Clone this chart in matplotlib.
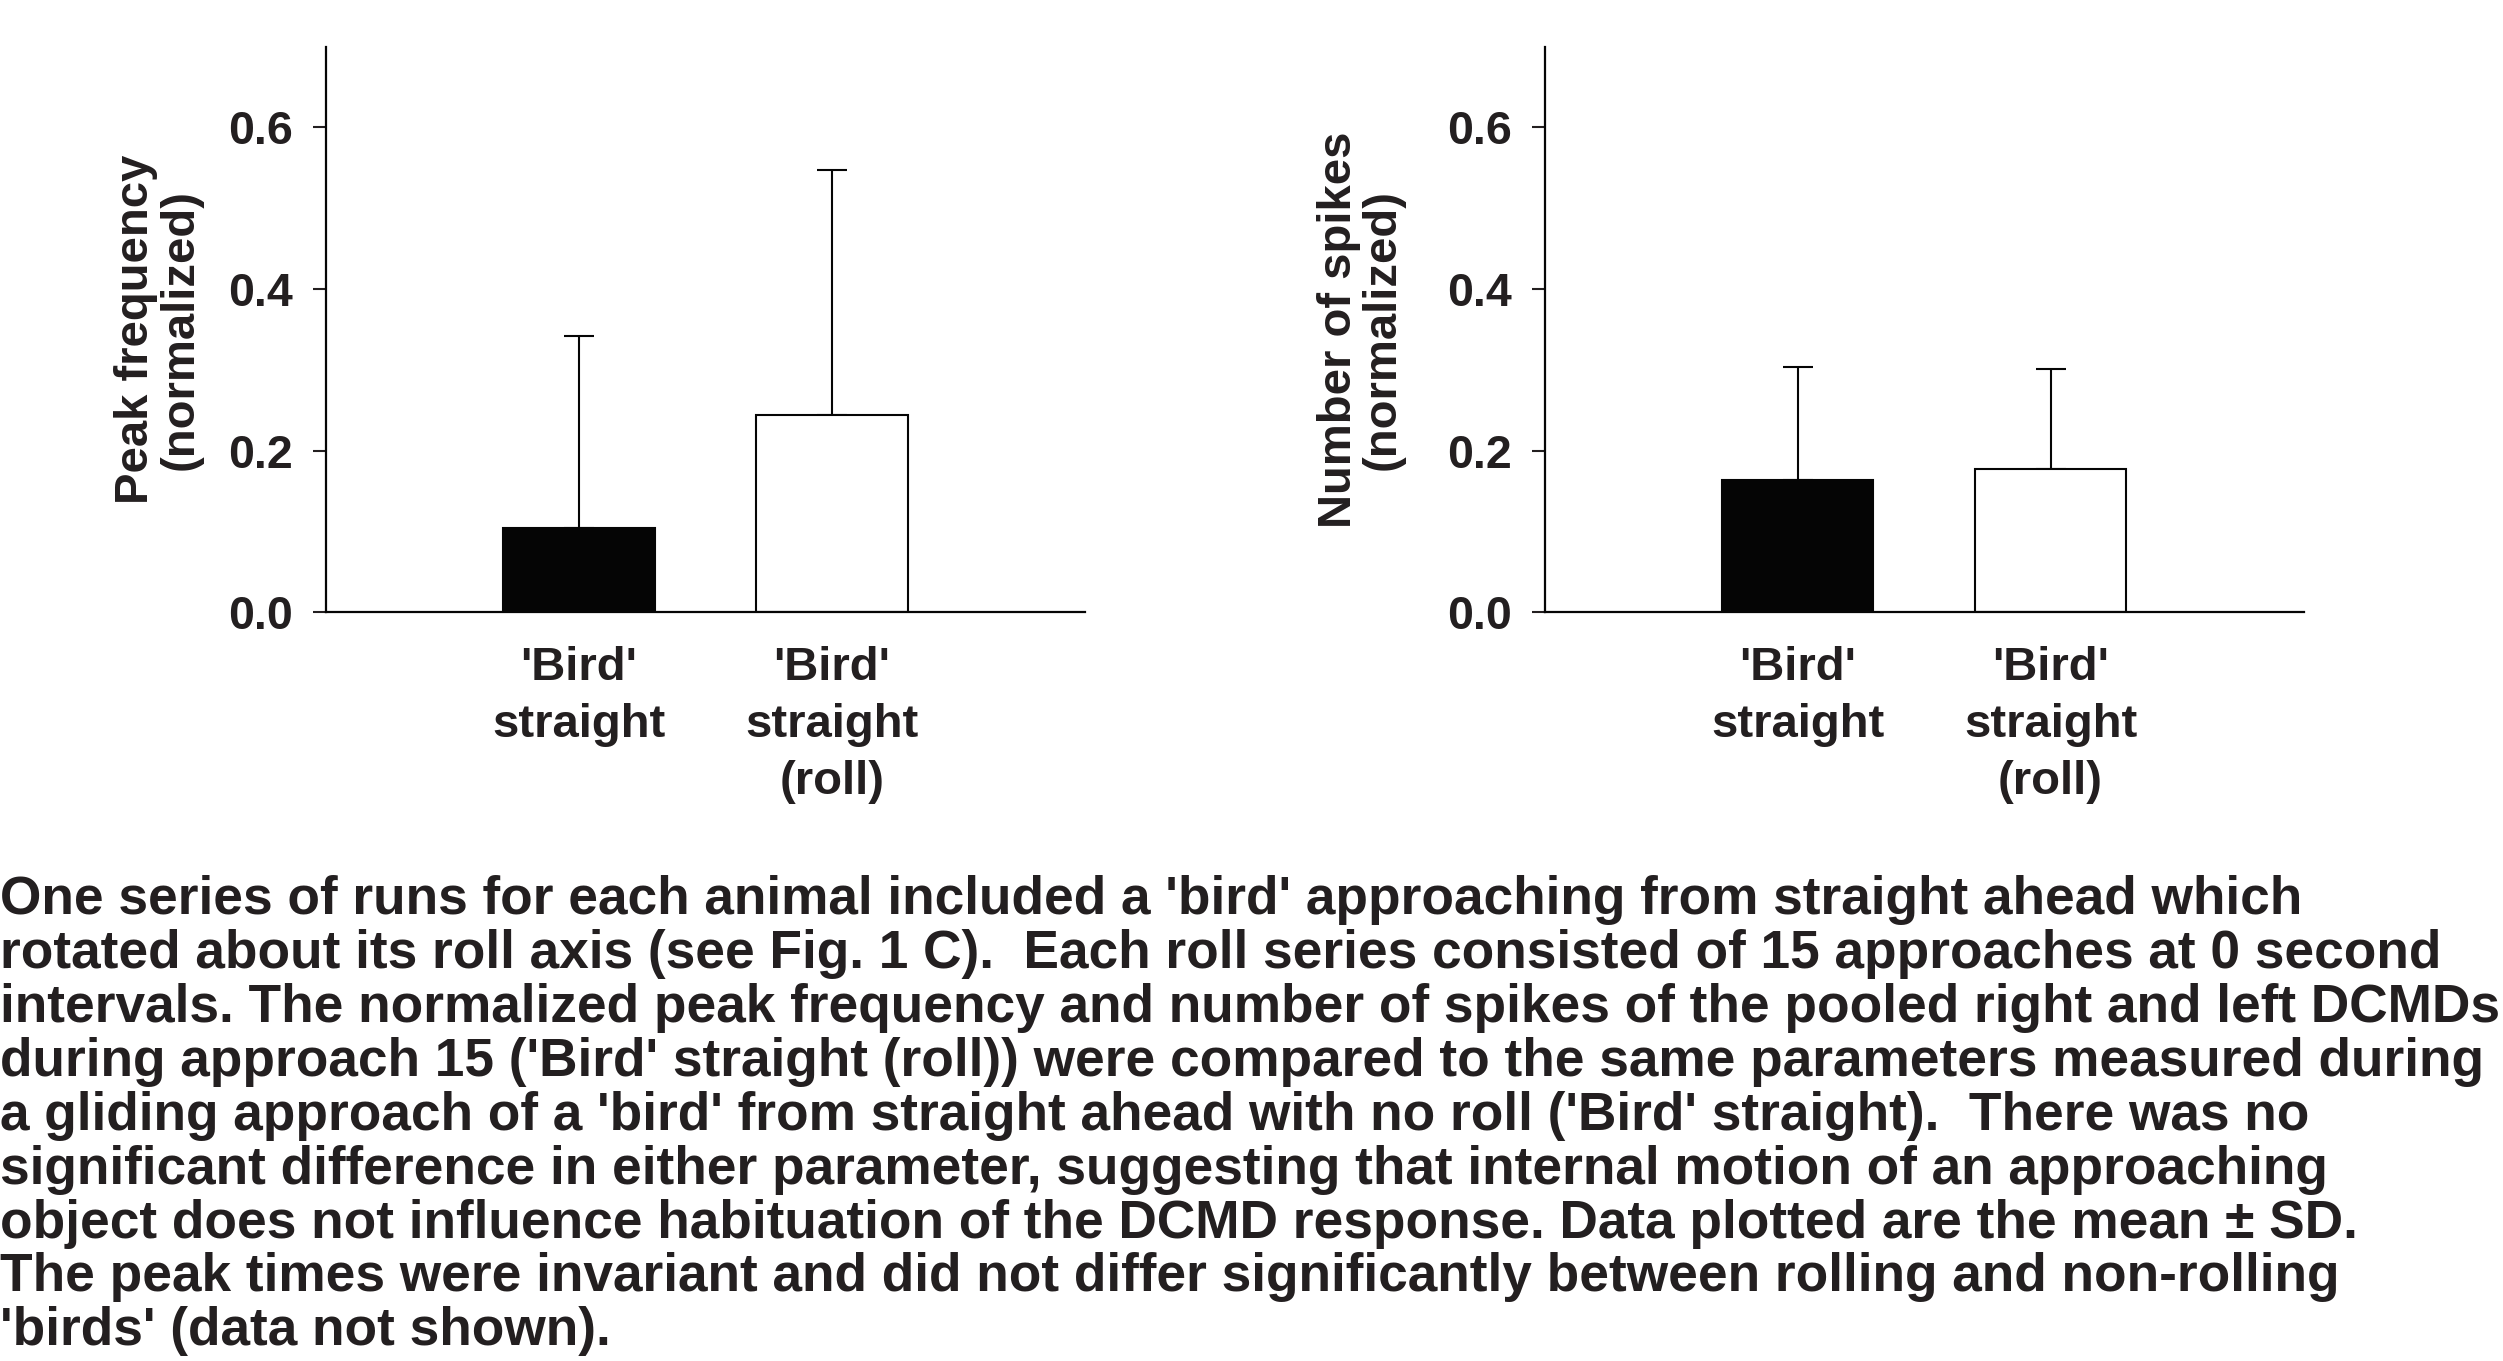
import matplotlib
matplotlib.use('Agg')
import matplotlib.pyplot as plt

categories = ["'Bird'\nstraight", "'Bird'\nstraight\n(roll)"]
peak_freq_mean = [0.105, 0.244]
peak_freq_sd = [0.237, 0.303]
spikes_mean = [0.164, 0.177]
spikes_sd = [0.140, 0.124]
yticks = [0.0, 0.2, 0.4, 0.6]
ytick_labels = ['0.0', '0.2', '0.4', '0.6']

caption = ("One series of runs for each animal included a 'bird' approaching from straight ahead which\n"
           "rotated about its roll axis (see Fig. 1 C).  Each roll series consisted of 15 approaches at 0 second\n"
           "intervals. The normalized peak frequency and number of spikes of the pooled right and left DCMDs\n"
           "during approach 15 ('Bird' straight (roll)) were compared to the same parameters measured during\n"
           "a gliding approach of a 'bird' from straight ahead with no roll ('Bird' straight).  There was no\n"
           "significant difference in either parameter, suggesting that internal motion of an approaching\n"
           "object does not influence habituation of the DCMD response. Data plotted are the mean \u00b1 SD.\n"
           "The peak times were invariant and did not differ significantly between rolling and non-rolling\n"
           "'birds' (data not shown).")

ink = '#231f20'
plt.rcParams['font.family'] = ['Liberation Sans', 'DejaVu Sans']
plt.rcParams['font.weight'] = 'bold'
plt.rcParams['axes.labelweight'] = 'bold'
plt.rcParams['text.color'] = ink

fig = plt.figure(figsize=(25.03, 13.61), dpi=100)


def panel(rect, means, sds, ylabel, label_x):
    ax = fig.add_axes(rect)
    x = [1, 2]
    ax.bar(x, means, width=0.6, color=['#050505', 'white'],
           edgecolor='#050505', linewidth=1.5, zorder=2)
    ax.errorbar(x, means, yerr=[[0, 0], sds], fmt='none', ecolor='#050505',
                elinewidth=1.5, capsize=10.5, capthick=1.5, zorder=1)
    ax.set_xlim(0, 3)
    ax.set_ylim(0, 0.7)
    ax.set_xticks(x)
    ax.set_xticklabels(categories, fontsize=34, linespacing=1.38)
    ax.set_yticks(yticks)
    ax.set_yticklabels(ytick_labels, fontsize=33.5)
    ax.tick_params(axis='x', length=0, pad=24, colors=ink)
    ax.tick_params(axis='y', direction='out', length=9.5, width=1.5, pad=14,
                   colors=ink)
    for s in ['top', 'right']:
        ax.spines[s].set_visible(False)
    for s in ['left', 'bottom']:
        ax.spines[s].set_linewidth(1.6)
        ax.spines[s].set_color('#050505')
    ax.set_ylabel(ylabel, fontsize=34, fontweight='bold', linespacing=1.0,
                  color=ink)
    ax.yaxis.set_label_coords(label_x, 0.5)
    return ax


panel([0.1302, 0.5500, 0.3033, 0.4158], peak_freq_mean, peak_freq_sd,
      'Peak frequency\n(normalized)', -0.163)
panel([0.6171, 0.5500, 0.3032, 0.4158], spikes_mean, spikes_sd,
      'Number of spikes\n(normalized)', -0.184)

fig.text(0.0, 0.357, caption, fontsize=38.3, ha='left', va='top',
         linespacing=1.1, color=ink)

fig.savefig('out.png', dpi=100)
